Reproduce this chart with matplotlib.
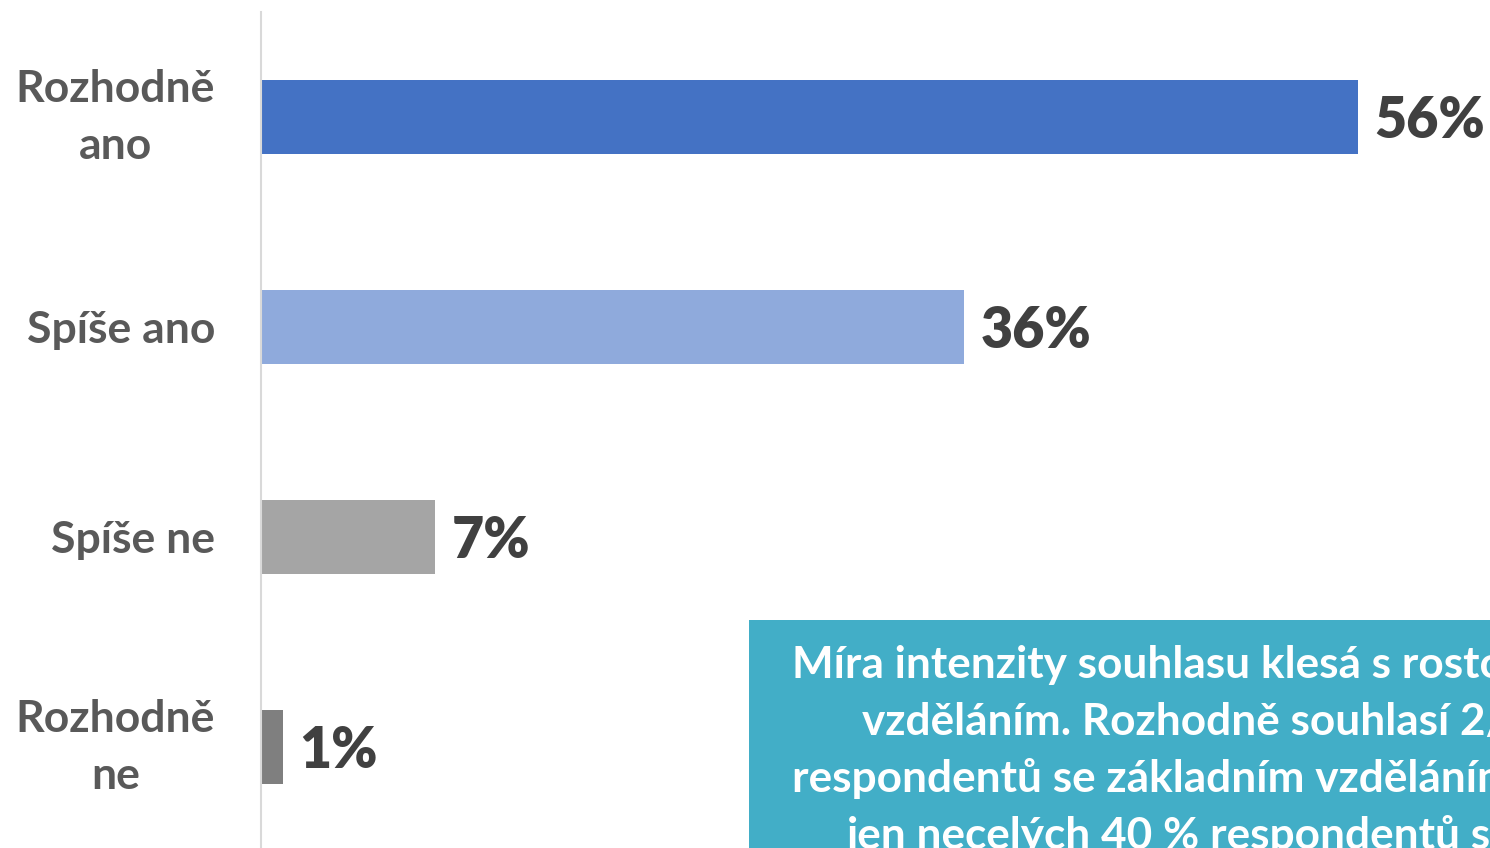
import matplotlib.pyplot as plt
from matplotlib.patches import Rectangle

# data
categories = ['Rozhodně\nano', 'Spíše ano', 'Spíše ne', 'Rozhodně\nne']
values = [56, 35.9, 8.9, 1.1]
value_labels = ['56%', '36%', '7%', '1%']
bar_colors = ['#4472C4', '#8FAADC', '#A5A5A5', '#7F7F7F']
note_lines = ['Míra intenzity souhlasu klesá s rostoucím',
              'vzděláním. Rozhodně souhlasí 2/3',
              'respondentů se základním vzděláním, ale',
              'jen necelých 40 % respondentů s VŠ.']

plt.rcParams['font.family'] = ['Lato', 'DejaVu Sans']

W, H = 1490, 848
fig = plt.figure(figsize=(W / 100, H / 100), dpi=100)
ax = fig.add_axes([261 / W, -4 / H, 1 - 261 / W, 840 / H])

y = list(range(len(categories)))
ax.barh(y, values, height=0.355, color=bar_colors)
ax.set_ylim(3.5, -0.5)
ax.set_xlim(0, (W - 261) / 19.59)

for yi, v, lab in zip(y, values, value_labels):
    ax.annotate(lab, (v, yi), xytext=(12, -3), textcoords='offset points',
                va='center', ha='left', fontsize=40, fontweight='heavy',
                color='#404040')

# category labels left of the axis line
ax.set_yticks(y)
ax.set_yticklabels([])
for yi, cat in zip(y, categories):
    dy = -0.5 if '\n' in cat else -2
    ax.annotate(cat, (0, yi), xytext=(-33, dy), textcoords='offset points',
                va='center', ha='right', multialignment='center', linespacing=1.52,
                fontsize=32, fontweight='bold', color='#595959', annotation_clip=False)
ax.tick_params(axis='y', length=0)
ax.set_xticks([])
for s in ['top', 'right', 'bottom']:
    ax.spines[s].set_visible(False)
ax.spines['left'].set_color('#D9D9D9')
ax.spines['left'].set_linewidth(1.5)

# note box (cut off by the figure edge, as in the original slide)
fig.patches.append(Rectangle((749 / W, 0), 1, (H - 620) / H, transform=fig.transFigure,
                             facecolor='#42AEC7', edgecolor='none', zorder=0))
line_x = [792, 862, 792, 847]
for i, (txt, lx) in enumerate(zip(note_lines, line_x)):
    fig.text(lx / W, (H - 678 - 57 * i) / H, txt, ha='left', va='baseline',
             fontsize=31.8, fontweight='bold', color='white')

fig.savefig('out.png', dpi=100)
